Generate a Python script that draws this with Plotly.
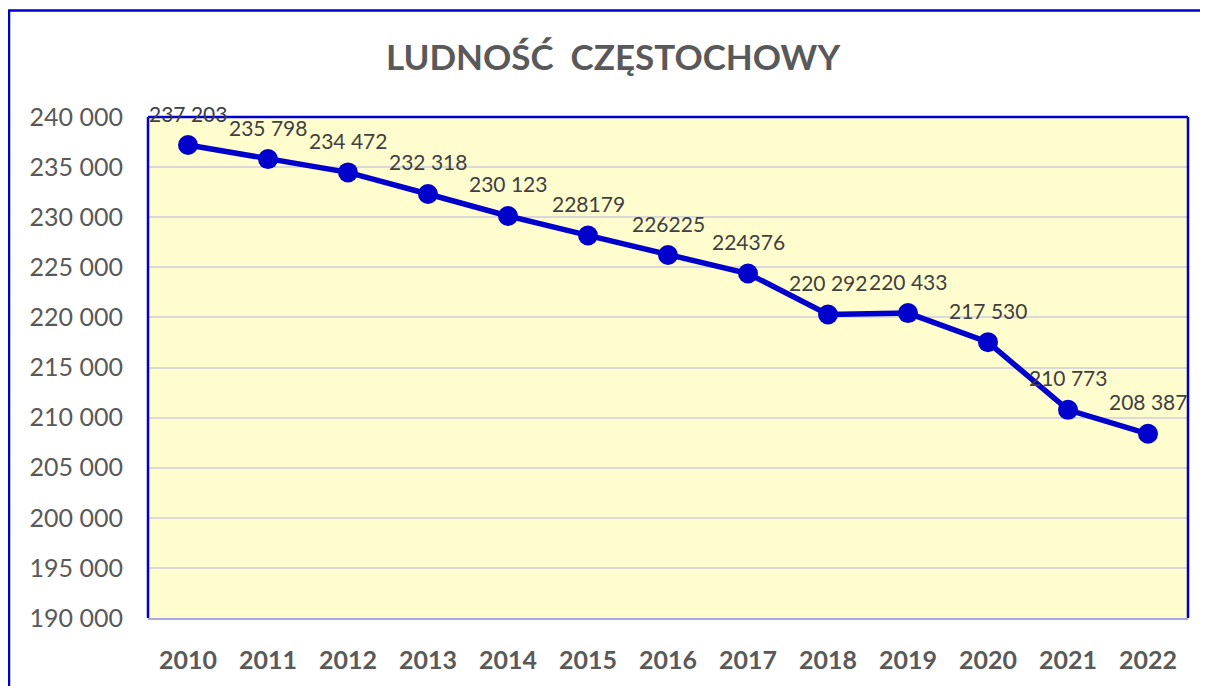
import plotly.graph_objects as go

years = ["2010", "2011", "2012", "2013", "2014", "2015", "2016",
         "2017", "2018", "2019", "2020", "2021", "2022"]
population = [237203, 235798, 234472, 232318, 230123, 228179, 226225,
              224376, 220292, 220433, 217530, 210773, 208387]
labels = ["237 203", "235 798", "234 472", "232 318", "230 123", "228179", "226225",
          "224376", "220 292", "220 433", "217 530", "210 773", "208 387"]
y_ticks = [190000, 195000, 200000, 205000, 210000, 215000, 220000,
           225000, 230000, 235000, 240000]
y_tick_text = ["190 000", "195 000", "200 000", "205 000", "210 000", "215 000",
               "220 000", "225 000", "230 000", "235 000", "240 000"]

BLUE = "#0000CC"
FONT = "Lato"

fig = go.Figure()
fig.add_trace(go.Scatter(
    x=years, y=population, mode="lines+markers",
    line=dict(color=BLUE, width=5.5),
    marker=dict(color=BLUE, size=20),
    hoverinfo="x+y", showlegend=False,
))

for i, (y, t) in enumerate(zip(population, labels)):
    fig.add_annotation(x=i, y=y, xref="x", yref="y", text=t, showarrow=False,
                       yshift=32, xanchor="center", yanchor="middle",
                       font=dict(family=FONT, size=21, color="#404040"))

W, H = 1200, 678
ml, mr, mt, mb = 140, 20, 109, 66
pw, ph = W - ml - mr, H - mt - mb

def px(x):
    return (x - ml) / pw

def py(y):
    return (H - mb - y) / ph

# outer frame
fig.add_shape(type="rect", xref="paper", yref="paper",
              x0=px(1), x1=px(1198), y0=py(720), y1=py(2),
              line=dict(color=BLUE, width=2.5), layer="above")
# plot area border (left, top, right)
for (x0, y0, x1, y1) in [(0, 0, 0, 1), (0, 1, 1, 1), (1, 0, 1, 1)]:
    fig.add_shape(type="line", xref="paper", yref="paper",
                  x0=x0, y0=y0, x1=x1, y1=y1,
                  line=dict(color=BLUE, width=2.5), layer="above")

fig.update_layout(
    width=W, height=H,
    margin=dict(l=ml, r=mr, t=mt, b=mb),
    paper_bgcolor="white",
    plot_bgcolor="#FFFDCD",
    title=dict(text="<b>LUDNOŚĆ  CZĘSTOCHOWY</b>", x=605 / W, xanchor="center",
               y=1 - 50 / H, yanchor="middle",
               font=dict(family=FONT, size=35, color="#595959")),
    xaxis=dict(type="category", range=[-0.5, 12.5], showgrid=False,
               showline=True, linecolor="#A8A8E0", linewidth=2,
               tickfont=dict(family=FONT, size=25, color="#595959", weight="bold"),
               ticks="", ticklabelstandoff=19, fixedrange=True),
    yaxis=dict(range=[190000, 240000], tickvals=y_ticks, ticktext=y_tick_text,
               showgrid=True, gridcolor="#D9D9D9", gridwidth=2,
               zeroline=False, showline=False,
               tickfont=dict(family=FONT, size=25, color="#595959"),
               ticks="", ticklabelstandoff=24, fixedrange=True),
)

fig.write_html("out.html")
